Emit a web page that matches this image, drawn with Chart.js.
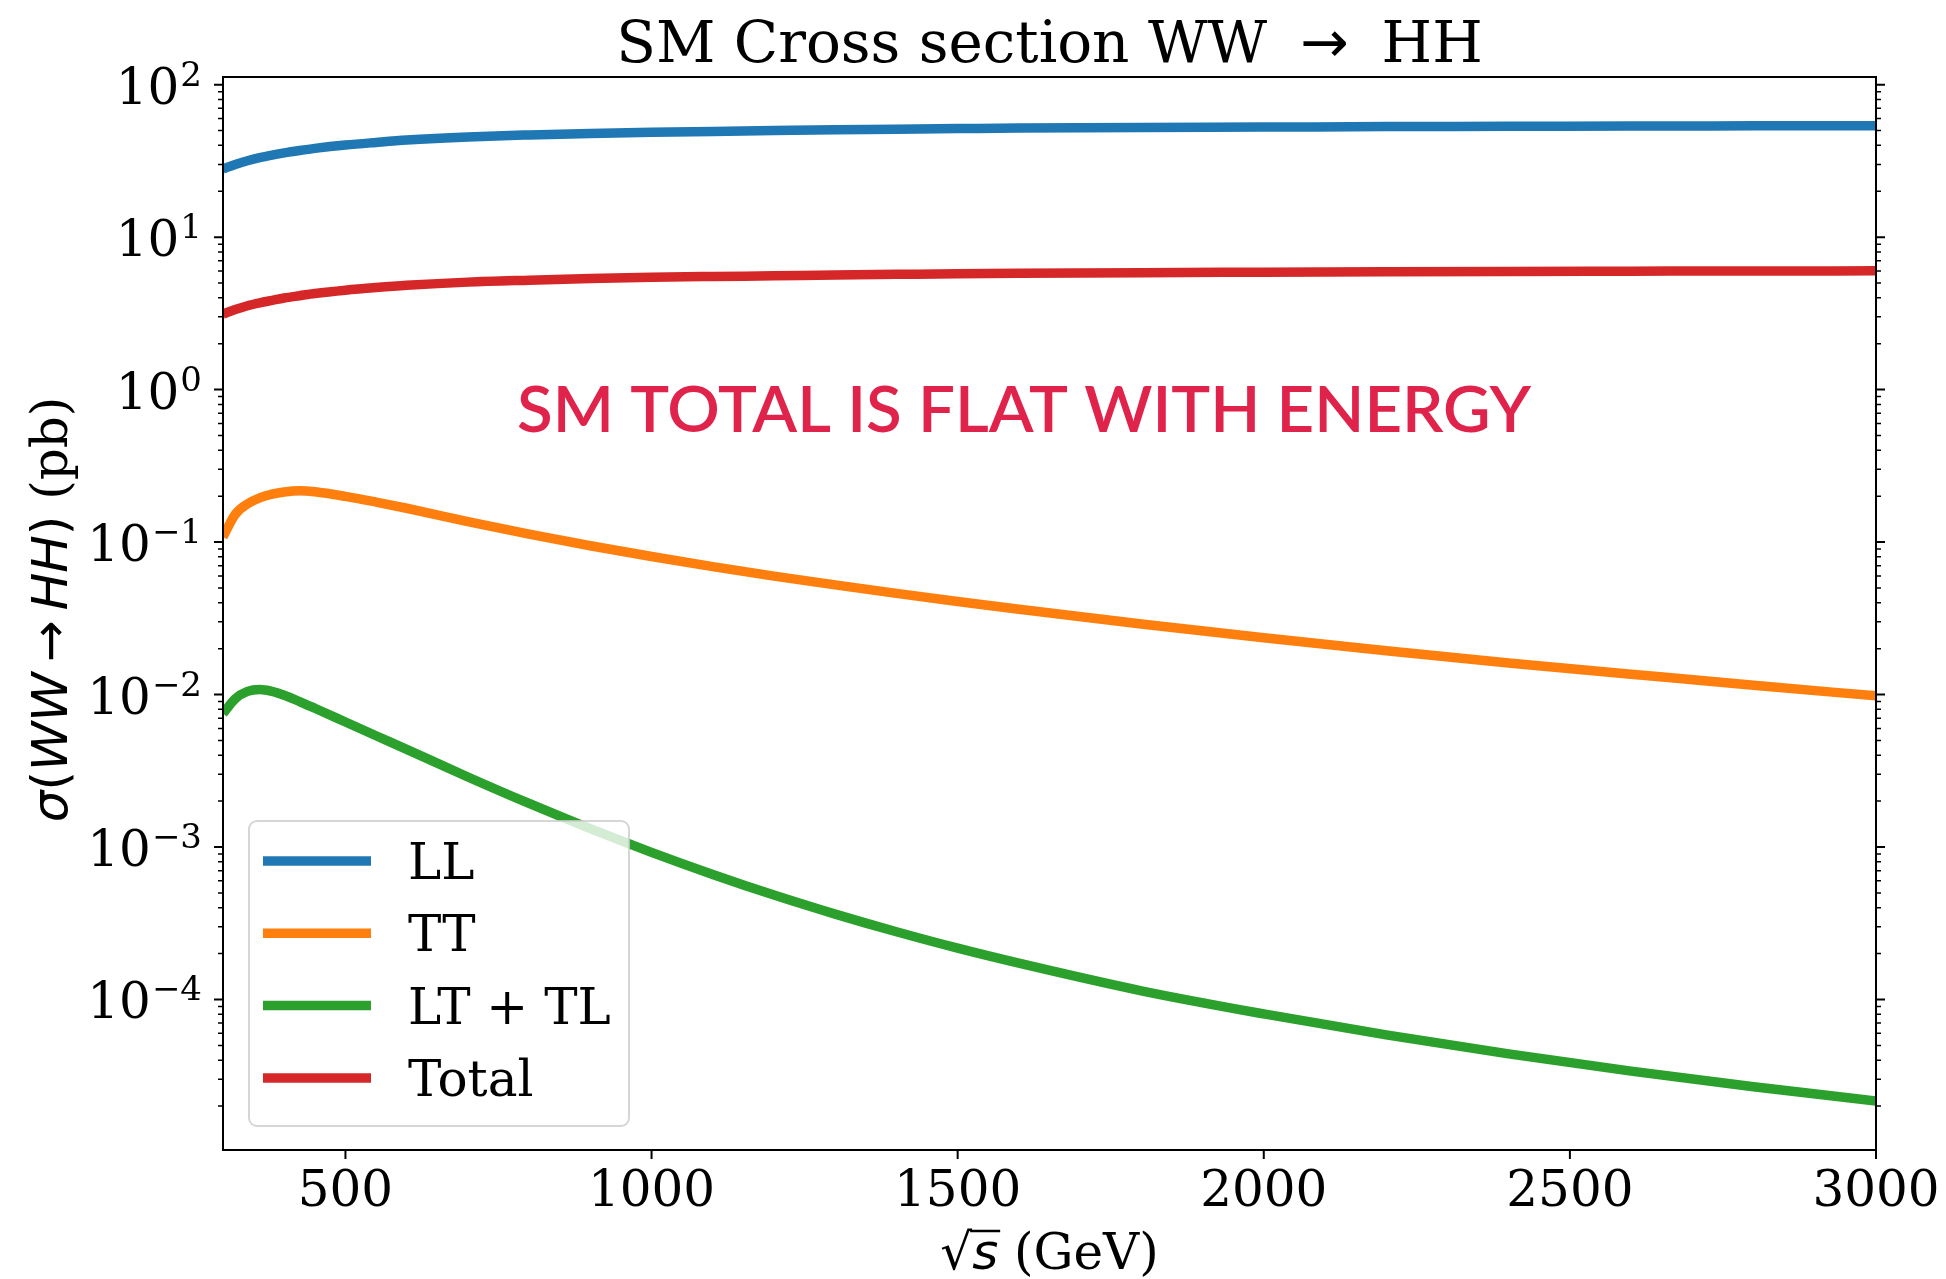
<!DOCTYPE html>
<html>
<head>
<meta charset="utf-8">
<title>SM Cross section WW → HH</title>
<script src="https://cdn.jsdelivr.net/npm/chart.js@4.4.1/dist/chart.umd.min.js"></script>
<style>
  body { margin: 0; background: #ffffff; }
  canvas { display: block; }
</style>
</head>
<body>
<canvas id="myChart" width="1946" height="1279"></canvas>
<script>
const ctx = document.getElementById('myChart');

// sqrt(s) in GeV, shared by every curve
const energy = [300, 320, 340, 360, 380, 400, 425, 450, 500, 550, 600, 700, 800, 900, 1000,
                1100, 1200, 1300, 1400, 1500, 1600, 1800, 2000, 2200, 2400, 2600, 2800, 3000];

// cross sections in pb for each helicity combination
const crossLL = [28.0, 30.0, 31.7, 33.2, 34.5, 35.7, 37.0, 38.2, 40.2, 41.8, 43.3, 45.4, 46.8, 47.9, 48.8,
                 49.4, 50.0, 50.6, 51.1, 51.5, 51.9, 52.4, 52.7, 53.1, 53.3, 53.6, 53.7, 53.8];
const crossTT = [0.108, 0.152, 0.178, 0.195, 0.206, 0.213, 0.217, 0.2138, 0.1995, 0.183, 0.1667, 0.1361, 0.1127, 0.0946, 0.0804,
                 0.0690, 0.0598, 0.0524, 0.0461, 0.0408, 0.0363, 0.0290, 0.0236, 0.0194, 0.0161, 0.0136, 0.0115, 0.0098];
const crossLTTL = [0.0075, 0.0094, 0.0105, 0.0108, 0.0105, 0.0099, 0.0090, 0.00813, 0.00661, 0.00537, 0.00437, 0.00288, 0.00193, 0.00132, 0.000923,
                   0.000661, 0.000484, 0.000363, 0.000278, 0.000217, 0.000173, 0.000114, 0.0000804, 0.0000586, 0.0000440, 0.0000339, 0.0000268, 0.0000216];
const crossTotal = [3.13, 3.35, 3.55, 3.71, 3.85, 3.99, 4.13, 4.27, 4.49, 4.67, 4.83, 5.07, 5.22, 5.35, 5.45,
                    5.52, 5.58, 5.65, 5.70, 5.75, 5.79, 5.85, 5.89, 5.93, 5.96, 5.98, 6.00, 6.01];

const seriesLabels = ['LL', 'TT', 'LT + TL', 'Total'];
const seriesColors = ['#1f77b4', '#ff7f0e', '#2ca02c', '#d62728'];

const xTicks = [500, 1000, 1500, 2000, 2500, 3000];
const yTickPowers = [-4, -3, -2, -1, 0, 1, 2];

const noteText = 'SM TOTAL IS FLAT WITH ENERGY';

const serif = '"DejaVu Serif", serif';
const sans = '"DejaVu Sans", sans-serif';

function toPoints(values) {
    return energy.map(function(e, i) { return {x: e, y: values[i]}; });
}

function superscript(p) {
    return p < 0 ? '\u2212' + (-p) : String(p);
}

// draws a row of [text, font] pieces starting at x, returns the end x
function drawPieces(c, pieces, x, y) {
    pieces.forEach(function(p) {
        c.font = p[1];
        c.fillText(p[0], x, y);
        x += c.measureText(p[0]).width;
    });
    return x;
}

function piecesWidth(c, pieces) {
    let w = 0;
    pieces.forEach(function(p) {
        c.font = p[1];
        w += c.measureText(p[0]).width;
    });
    return w;
}

// frame, ticks, labels, note and legend in the matplotlib look
const axesDecor = {
    id: 'axesDecor',
    afterDatasetsDraw(chart) {
        const c = chart.ctx;
        const area = chart.chartArea;
        const xs = chart.scales.x;
        const ys = chart.scales.y;
        const midX = (area.left + area.right) / 2;
        c.save();
        c.fillStyle = '#000000';
        c.strokeStyle = '#000000';
        c.textBaseline = 'alphabetic';

        // frame
        c.lineWidth = 2;
        c.strokeRect(area.left, area.top, area.right - area.left, area.bottom - area.top);

        // x ticks and labels
        c.font = '50px ' + serif;
        c.textAlign = 'center';
        xTicks.forEach(function(v) {
            const px = xs.getPixelForValue(v);
            c.beginPath();
            c.moveTo(px, area.bottom);
            c.lineTo(px, area.bottom + 9);
            c.stroke();
            c.fillText(String(v), px, area.bottom + 56);
        });

        // y ticks, major and minor, on both sides
        for (let k = -6; k <= 3; k++) {
            for (let m = 1; m <= 9; m++) {
                const v = m * Math.pow(10, k);
                if (v < ys.min || v > ys.max) continue;
                const py = ys.getPixelForValue(v);
                const len = m === 1 ? 9 : 5;
                c.lineWidth = m === 1 ? 2 : 1.5;
                c.beginPath();
                c.moveTo(area.left - len, py);
                c.lineTo(area.left, py);
                c.moveTo(area.right, py);
                c.lineTo(area.right + len, py);
                c.stroke();
            }
        }

        // y labels as 10 with a raised exponent
        c.textAlign = 'left';
        yTickPowers.forEach(function(p) {
            const py = ys.getPixelForValue(Math.pow(10, p));
            const sup = superscript(p);
            c.font = '34px ' + serif;
            const supW = c.measureText(sup).width;
            c.font = '50px ' + serif;
            const baseW = c.measureText('10').width;
            const right = area.left - 21;
            c.fillText('10', right - supW - baseW - 1, py + 19);
            c.font = '34px ' + serif;
            c.fillText(sup, right - supW, py + 1);
        });

        // title, arrow set in the math font
        const titlePieces = [['SM Cross section WW ', '58px ' + serif], ['\u2005\u2192\u2005', '58px ' + sans], [' HH', '58px ' + serif]];
        drawPieces(c, titlePieces, midX - piecesWidth(c, titlePieces) / 2, 62);

        // x axis label: sqrt(s) (GeV)
        const xPieces = [['\u221a', '50px ' + sans], ['s', 'italic 50px ' + sans], [' (GeV)', '50px ' + serif]];
        const xStart = midX - piecesWidth(c, xPieces) / 2;
        const xBase = 1269;
        c.font = '50px ' + sans;
        const radW = c.measureText('\u221a').width;
        c.font = 'italic 50px ' + sans;
        const sW = c.measureText('s').width;
        drawPieces(c, xPieces, xStart, xBase);
        c.lineWidth = 2.5;
        c.beginPath();
        c.moveTo(xStart + radW - 2, xBase - 38);
        c.lineTo(xStart + radW + sW + 2, xBase - 38);
        c.stroke();

        // y axis label, rotated
        const yPieces = [
            ['\u03c3', 'italic 50px ' + sans], ['(', '50px ' + sans], ['WW', 'italic 50px ' + sans],
            ['\u2009\u2192\u2009', '50px ' + sans], ['HH', 'italic 50px ' + sans], [')', '50px ' + sans],
            [' (pb)', '50px ' + serif]
        ];
        c.save();
        c.translate(67, (area.top + area.bottom) / 2 - 4);
        c.rotate(-Math.PI / 2);
        drawPieces(c, yPieces, -piecesWidth(c, yPieces) / 2, 0);
        c.restore();

        // note across the middle of the plot
        c.save();
        c.font = '600 64px Lato, "Noto Sans", sans-serif';
        c.fillStyle = '#e0234b';
        const noteW = c.measureText(noteText).width;
        c.translate(517, 432);
        c.scale(1014 / noteW, 1);
        c.fillText(noteText, 0, 0);
        c.restore();

        // legend box in the lower left corner
        const lx = area.left + 26;
        const ly = area.top + 744;
        c.beginPath();
        c.roundRect(lx, ly, 380, 305, 8);
        c.fillStyle = 'rgba(255,255,255,0.8)';
        c.fill();
        c.lineWidth = 2;
        c.strokeStyle = 'rgba(204,204,204,0.8)';
        c.stroke();
        c.font = '50px ' + serif;
        chart.data.datasets.forEach(function(ds, i) {
            const rowY = ly + 40 + i * 72.3;
            c.strokeStyle = ds.borderColor;
            c.lineWidth = 9.5;
            c.beginPath();
            c.moveTo(lx + 14, rowY);
            c.lineTo(lx + 122, rowY);
            c.stroke();
            c.fillStyle = '#000000';
            c.fillText(ds.label, lx + 159, rowY + 18);
        });

        c.restore();
    }
};

const seriesData = [crossLL, crossTT, crossLTTL, crossTotal];

new Chart(ctx, {
    type: 'line',
    data: {
        datasets: seriesData.map(function(values, i) {
            return {
                label: seriesLabels[i],
                data: toPoints(values),
                borderColor: seriesColors[i],
                backgroundColor: seriesColors[i],
                borderWidth: 9.5,
                pointRadius: 0,
                fill: false,
                cubicInterpolationMode: 'monotone',
                clip: 0,
                order: seriesData.length - i
            };
        })
    },
    options: {
        responsive: false,
        animation: false,
        devicePixelRatio: 1,
        events: [],
        layout: {
            padding: {left: 223, right: 70, top: 77, bottom: 129}
        },
        plugins: {
            legend: {display: false},
            tooltip: {enabled: false},
            title: {display: false}
        },
        scales: {
            x: {
                type: 'linear',
                display: false,
                min: 300,
                max: 3000
            },
            y: {
                type: 'logarithmic',
                display: false,
                min: 1.03e-5,
                max: 112.3
            }
        }
    },
    plugins: [axesDecor]
});
</script>
</body>
</html>
